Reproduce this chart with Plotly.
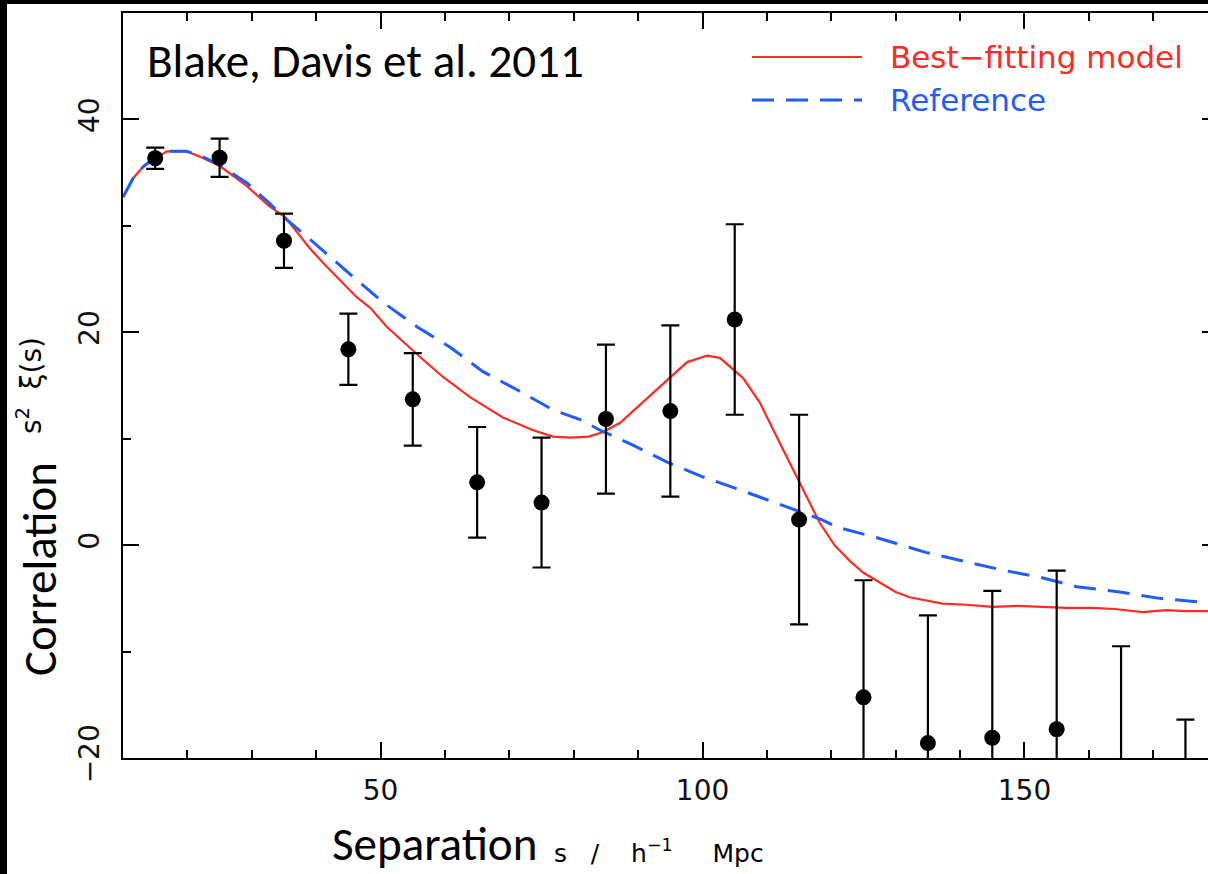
import plotly.graph_objects as go

# ---------------- data ----------------
data_x = [15, 25, 35, 45, 55, 65, 75, 85, 95, 105, 115, 125, 135, 145, 155, 165, 175]
data_y = [36.35, 36.4, 28.6, 18.4, 13.7, 5.9, 4.0, 11.85, 12.6, 21.2, 2.4, -14.3, -18.6, -18.1, -17.3, -25.5, -33.4]
data_err = [1.0, 1.8, 2.55, 3.35, 4.35, 5.2, 6.1, 7.0, 8.05, 8.95, 9.85, 11.0, 12.0, 13.8, 14.9, 16.0, 17.0]

model_x = [10, 11.6, 13.2, 14.7, 16.8, 19.9, 22.0, 25.1, 29.3, 32.6, 35.2, 39.0, 41.1, 46.3, 48.4,
           51.0, 54.6, 56.1, 59.7, 63.9, 69.0, 73.7, 76.8, 79.5, 82.3, 84.5, 87.2, 90.7, 94.5, 97.6,
           100.7, 102.7, 106.3, 108.9, 112.0, 115.1, 118.2, 120.5, 122.9, 125.0, 127.5, 130.0, 132.2,
           137.3, 141.0, 145.1, 149.0, 152.9, 156.5, 160.6, 164.0, 168.4, 172.0, 175.0, 178.5]
model_y = [32.7, 34.5, 35.6, 36.2, 37.0, 37.0, 36.5, 35.6, 33.7, 31.9, 30.8, 27.9, 26.5, 23.3, 22.3,
           20.5, 18.5, 17.7, 15.8, 13.9, 12.0, 10.8, 10.2, 10.1, 10.2, 10.6, 11.5, 13.4, 15.5, 17.2,
           17.8, 17.6, 15.7, 13.4, 9.6, 5.8, 2.1, 0.0, -1.5, -2.6, -3.5, -4.4, -4.9,
           -5.5, -5.6, -5.8, -5.7, -5.8, -5.9, -5.9, -6.0, -6.3, -6.1, -6.2, -6.2]

ref_x = [10, 11.6, 13.2, 14.7, 16.8, 19.9, 22.0, 25.1, 29.3, 32.6, 34.8, 39.5, 44.8, 50.4, 55.7,
         60.8, 65.9, 71.2, 76.8, 81.0, 84.1, 89.2, 94.5, 100.1, 105.8, 111.6, 115.6, 118.5, 120.9,
         127.1, 134.8, 141.1, 146.6, 152.3, 158.1, 164.8, 171.0, 178.5]
ref_y = [32.7, 34.5, 35.6, 36.3, 37.0, 37.0, 36.6, 35.7, 34.0, 32.2, 30.9, 28.5, 25.7, 22.8, 20.5,
         18.6, 16.3, 14.6, 12.7, 11.8, 10.8, 9.4, 7.8, 6.4, 5.2, 3.9, 3.0, 2.4, 1.7,
         0.7, -0.7, -1.6, -2.35, -3.0, -3.9, -4.4, -5.0, -5.4]

legend_labels = ["Best\u2212fitting model", "Reference"]
x_range = [10, 178.5]
y_range = [-20, 50]

RED = "#ff2a22"
BLUE = "#1f5cff"

# ---------------- layout geometry (pixels) ----------------
W, H = 1208, 874
ML, MR, MT, MB = 123, 0, 13, 116
PW, PH = W - ML - MR, H - MT - MB


def px(x):
    return (x - ML) / PW


def py(y):
    return (H - MB - y) / PH


fig = go.Figure()

fig.add_trace(go.Scatter(x=model_x, y=model_y, mode="lines",
                         line=dict(color=RED, width=2.2), showlegend=False))
fig.add_trace(go.Scatter(x=ref_x, y=ref_y, mode="lines",
                         line=dict(color=BLUE, width=3, dash="22px,12px"), showlegend=False))
fig.add_trace(go.Scatter(x=data_x, y=data_y, mode="markers",
                         marker=dict(color="black", size=16),
                         error_y=dict(type="data", array=data_err, color="black",
                                      thickness=2.2, width=9),
                         showlegend=False))
# invisible trace for right-hand tick axis
fig.add_trace(go.Scatter(x=[x_range[0]], y=[y_range[0]], yaxis="y2", mode="markers",
                         marker=dict(opacity=0), showlegend=False, hoverinfo="skip"))

tickfont = dict(family="DejaVu Sans", size=28, color="#111")

fig.update_layout(
    width=W, height=H,
    margin=dict(l=ML, r=MR, t=MT, b=MB, pad=0),
    paper_bgcolor="white", plot_bgcolor="white",
    xaxis=dict(range=x_range, showline=True, linecolor="black", linewidth=2,
               mirror="ticks", ticks="inside", ticklen=16, tickwidth=2, tickcolor="black",
               tick0=0, dtick=50, showgrid=False, zeroline=False, tickfont=tickfont,
               minor=dict(dtick=10, tick0=0, ticks="inside", ticklen=8, tickwidth=2,
                          tickcolor="black", showgrid=False),
               ticklabelstandoff=6),
    yaxis=dict(range=y_range, showline=True, linecolor="black", linewidth=2,
               ticks="inside", ticklen=16, tickwidth=2, tickcolor="black",
               tick0=0, dtick=20, showgrid=False, zeroline=False, tickfont=tickfont,
               tickangle=-90,
               minor=dict(dtick=10, tick0=0, ticks="inside", ticklen=8, tickwidth=2,
                          tickcolor="black", showgrid=False),
               ticklabelstandoff=11),
    yaxis2=dict(range=y_range, overlaying="y", side="right", anchor="x", showline=False,
                ticks="inside", ticklen=6, tickwidth=2, tickcolor="black", tick0=0, dtick=20,
                showticklabels=False, showgrid=False, zeroline=False),
)

anns = []
calibri = "Carlito, Lato, sans-serif"
nb = "\u00a0"
anns.append(dict(text="Blake, Davis et al. 2011", x=px(145), y=py(61), xref="paper", yref="paper",
                 xanchor="left", yanchor="middle", showarrow=False,
                 font=dict(family=calibri, size=47, color="black")))
anns.append(dict(text="Correlation", x=px(40), y=py(569), xref="paper", yref="paper",
                 xanchor="center", yanchor="middle", showarrow=False, textangle=-90,
                 font=dict(family=calibri, size=47, color="black")))
anns.append(dict(text="s<sup>2</sup>" + nb * 2 + "\u03be(s)", x=px(29), y=py(386), xref="paper", yref="paper",
                 xanchor="center", yanchor="middle", showarrow=False, textangle=-90,
                 font=dict(family="DejaVu Sans", size=28, color="black")))
anns.append(dict(text="Separation", x=px(330), y=py(844), xref="paper", yref="paper",
                 xanchor="left", yanchor="middle", showarrow=False,
                 font=dict(family=calibri, size=47, color="black")))
anns.append(dict(text="s" + nb * 3 + "/" + nb * 4 + "h<sup>\u22121</sup>" + nb * 5 + "Mpc",
                 x=px(552), y=py(851), xref="paper", yref="paper",
                 xanchor="left", yanchor="middle", showarrow=False,
                 font=dict(family="DejaVu Sans", size=25, color="black")))
anns.append(dict(text=legend_labels[0], x=px(888), y=py(57), xref="paper", yref="paper",
                 xanchor="left", yanchor="middle", showarrow=False,
                 font=dict(family="DejaVu Sans", size=31, color=RED)))
anns.append(dict(text=legend_labels[1], x=px(888), y=py(100), xref="paper", yref="paper",
                 xanchor="left", yanchor="middle", showarrow=False,
                 font=dict(family="DejaVu Sans", size=31, color=BLUE)))
fig.update_layout(annotations=anns)

shapes = [
    # legend sample lines
    dict(type="line", xref="paper", yref="paper", x0=px(752), x1=px(862), y0=py(57), y1=py(57),
         line=dict(color=RED, width=2.2)),
    dict(type="line", xref="paper", yref="paper", x0=px(752), x1=px(862), y0=py(100), y1=py(100),
         line=dict(color=BLUE, width=3, dash="22px,12px")),
    # black frame strips of the original slide
    dict(type="rect", xref="paper", yref="paper", x0=px(0), x1=px(7), y0=py(H), y1=py(0),
         fillcolor="black", line=dict(width=0), layer="above"),
    dict(type="rect", xref="paper", yref="paper", x0=px(0), x1=px(W), y0=py(4), y1=py(0),
         fillcolor="black", line=dict(width=0), layer="above"),
]
fig.update_layout(shapes=shapes)

fig.write_html("out.html", config={"displayModeBar": False},
               post_script="document.body.style.margin='0';document.body.style.overflow='hidden';")
